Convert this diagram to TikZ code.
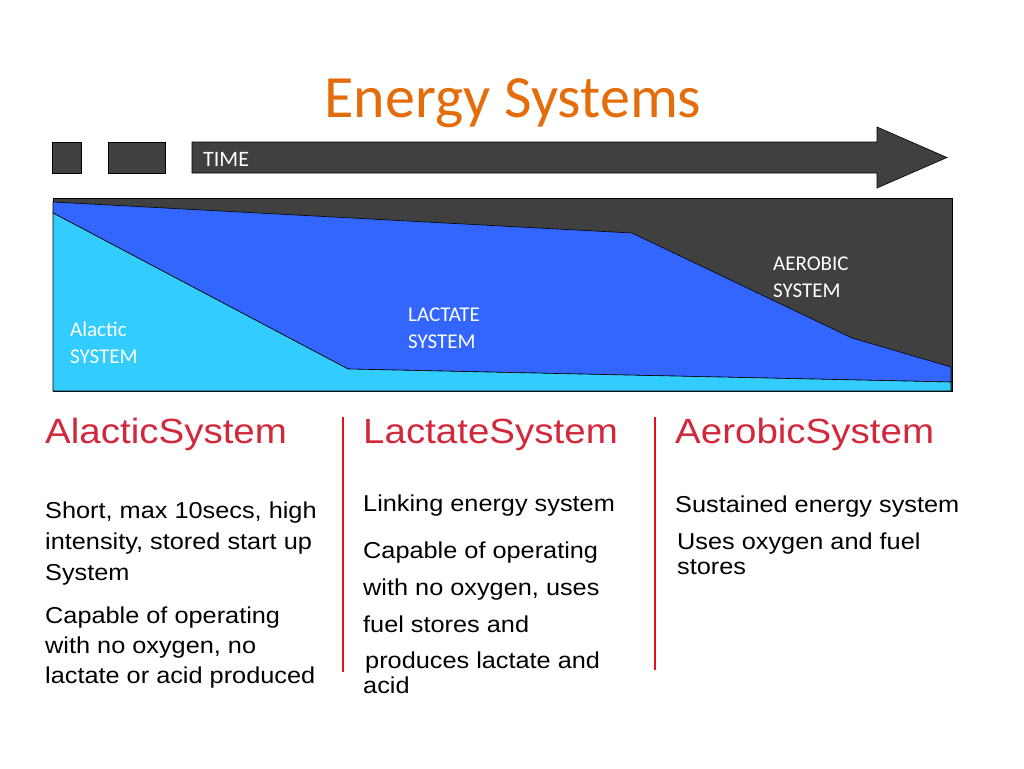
\documentclass[tikz,border=0pt]{standalone}
\usepackage{fontspec}
\setmainfont{Liberation Sans}[FakeStretch=1.1]
\newfontfamily\calfont{Carlito}
\definecolor{slate}{HTML}{404040}
\definecolor{lactblue}{HTML}{3366FF}
\definecolor{alacblue}{HTML}{33CCFF}
\definecolor{titleorange}{RGB}{228,108,10}
\definecolor{headred}{RGB}{210,40,60}
\definecolor{divred}{RGB}{225,20,30}
\begin{document}
\begin{tikzpicture}[x=1pt,y=-1pt,
timebar/.style={fill=slate,draw=black,line width=0.6pt},
phase/.style={draw=black,line width=0.6pt},
blocklabel/.style={anchor=base west,inner sep=0pt,align=left,text=white,font=\calfont\fontsize{21}{27}\selectfont},
heading/.style={anchor=base west,inner sep=0pt,text=headred,font=\fontsize{35}{42}\selectfont},
bodytext/.style={anchor=base west,inner sep=0pt,align=left},
divider/.style={draw=divred,line width=2.5pt}]

\useasboundingbox (0,0) rectangle (1024,768);

\node[anchor=base,inner sep=0pt,text=titleorange,font=\calfont\fontsize{60}{72}\selectfont] (title) at (513,117) {Energy Systems};

% time arrow
\draw[timebar] (52,142) rectangle (81,173);
\draw[timebar] (108,142) rectangle (165,173);
\draw[timebar] (192,142) -- (877,142) -- (877,127) -- (947,157.5) -- (877,188) -- (877,173) -- (192,173) -- cycle;
\node[blocklabel,font=\calfont\fontsize{22}{26}\selectfont] (time) at (203,166) {TIME};

% the three systems over time
\draw[phase,fill=slate] (53,198) rectangle (952,391);
\draw[phase,fill=lactblue] (53,202) -- (632,233) -- (852,338) -- (951,367) -- (951,382) -- (348,369) -- (53,213) -- cycle;
\draw[phase,fill=alacblue] (53,213) -- (348,369) -- (951,382) -- (951,391) -- (53,391) -- cycle;

% labels sit on the baseline of their last line
\node[blocklabel] (alactic) at (70,363) {Alactic\\SYSTEM};
\node[blocklabel] (lactate) at (408,348) {LACTATE\\SYSTEM};
\node[blocklabel] (aerobic) at (773,297) {AEROBIC\\SYSTEM};

% columns
\draw[divider] (343,417) -- (343,672);
\draw[divider] (655,417) -- (655,670);

\node[heading] (alachead) at (45,443) {AlacticSystem};
\node[heading] (lacthead) at (363,443) {LactateSystem};
\node[heading] (aerohead) at (675,443) {AerobicSystem};

\node[bodytext,font=\fontsize{23}{31}\selectfont] (alacone) at (45,580) {Short, max 10secs, high\\intensity, stored start up\\System};
\node[bodytext,font=\fontsize{23}{30}\selectfont] (alactwo) at (45,683) {Capable of operating\\with no oxygen, no\\lactate or acid produced};

\node[bodytext,font=\fontsize{23}{31}\selectfont] (lactone) at (363,511) {Linking energy system};
\node[bodytext,font=\fontsize{23}{37}\selectfont] (lacttwo) at (363,632) {Capable of operating\\with no oxygen, uses\\fuel stores and};
\node[bodytext,font=\fontsize{23}{25}\selectfont] (lactthree) at (365,693) {produces lactate and\\\hspace*{-2pt}acid};

\node[bodytext,font=\fontsize{23}{31}\selectfont] (aeroone) at (675,512) {Sustained energy system};
\node[bodytext,font=\fontsize{23}{25}\selectfont] (aerotwo) at (677,574) {Uses oxygen and fuel\\stores};

\end{tikzpicture}
\end{document}
